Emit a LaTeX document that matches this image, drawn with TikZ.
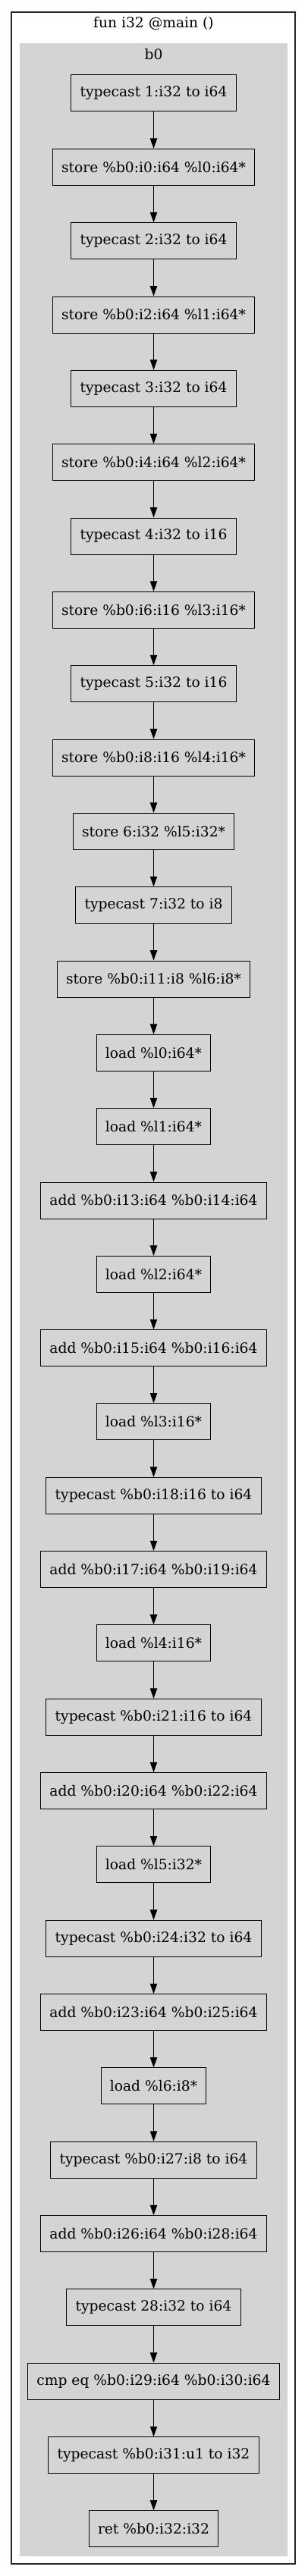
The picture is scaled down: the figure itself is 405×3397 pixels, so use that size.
\documentclass[tikz,border=0pt]{standalone}
\usepackage{fontspec}
\setmainfont{DejaVu Serif}
\usetikzlibrary{arrows.meta}
\begin{document}
\begin{tikzpicture}[x=0.75pt,y=-0.75pt,font=\fontsize{14pt}{16pt}\selectfont,
  instr/.style={fill=black!17,shape=rectangle,draw,line width=0.75pt,minimum height=36pt,inner xsep=8.8pt},
  flow/.style={-{Triangle[length=10pt,width=7pt]},line width=0.75pt}]
\useasboundingbox (0,0) rectangle (405,3397);
\draw[line width=0.9pt,black!85] (15,16) rectangle (389,3381);
\fill[black!17] (26,57) rectangle (379,3371);
\node(F) at (202.5,31){fun i32 @main ()};
\node(B) at (202.5,72){b0};
\node[instr](I1) at (202.5,123){typecast 1:i32 to i64};
\node[instr](I2) at (202.5,220.3){store \%b0:i0:i64 \%l0:i64*};
\node[instr](I3) at (202.5,317.7){typecast 2:i32 to i64};
\node[instr](I4) at (202.5,415.0){store \%b0:i2:i64 \%l1:i64*};
\node[instr](I5) at (202.5,512.3){typecast 3:i32 to i64};
\node[instr](I6) at (202.5,609.7){store \%b0:i4:i64 \%l2:i64*};
\node[instr](I7) at (202.5,707.0){typecast 4:i32 to i16};
\node[instr](I8) at (202.5,804.3){store \%b0:i6:i16 \%l3:i16*};
\node[instr](I9) at (202.5,901.6){typecast 5:i32 to i16};
\node[instr](I10) at (202.5,999.0){store \%b0:i8:i16 \%l4:i16*};
\node[instr](I11) at (202.5,1096.3){store 6:i32 \%l5:i32*};
\node[instr](I12) at (202.5,1193.6){typecast 7:i32 to i8};
\node[instr](I13) at (202.5,1291.0){store \%b0:i11:i8 \%l6:i8*};
\node[instr](I14) at (202.5,1388.3){load \%l0:i64*};
\node[instr](I15) at (202.5,1485.6){load \%l1:i64*};
\node[instr](I16) at (202.5,1583.0){add \%b0:i13:i64 \%b0:i14:i64};
\node[instr](I17) at (202.5,1680.3){load \%l2:i64*};
\node[instr](I18) at (202.5,1777.6){add \%b0:i15:i64 \%b0:i16:i64};
\node[instr](I19) at (202.5,1874.9){load \%l3:i16*};
\node[instr](I20) at (202.5,1972.3){typecast \%b0:i18:i16 to i64};
\node[instr](I21) at (202.5,2069.6){add \%b0:i17:i64 \%b0:i19:i64};
\node[instr](I22) at (202.5,2166.9){load \%l4:i16*};
\node[instr](I23) at (202.5,2264.3){typecast \%b0:i21:i16 to i64};
\node[instr](I24) at (202.5,2361.6){add \%b0:i20:i64 \%b0:i22:i64};
\node[instr](I25) at (202.5,2458.9){load \%l5:i32*};
\node[instr](I26) at (202.5,2556.3){typecast \%b0:i24:i32 to i64};
\node[instr](I27) at (202.5,2653.6){add \%b0:i23:i64 \%b0:i25:i64};
\node[instr](I28) at (202.5,2750.9){load \%l6:i8*};
\node[instr](I29) at (202.5,2848.2){typecast \%b0:i27:i8 to i64};
\node[instr](I30) at (202.5,2945.6){add \%b0:i26:i64 \%b0:i28:i64};
\node[instr](I31) at (202.5,3042.9){typecast 28:i32 to i64};
\node[instr](I32) at (202.5,3140.2){cmp eq \%b0:i29:i64 \%b0:i30:i64};
\node[instr](I33) at (202.5,3237.6){typecast \%b0:i31:u1 to i32};
\node[instr](I34) at (202.5,3334.9){ret \%b0:i32:i32};
\draw[flow] (I1) -- (I2);
\draw[flow] (I2) -- (I3);
\draw[flow] (I3) -- (I4);
\draw[flow] (I4) -- (I5);
\draw[flow] (I5) -- (I6);
\draw[flow] (I6) -- (I7);
\draw[flow] (I7) -- (I8);
\draw[flow] (I8) -- (I9);
\draw[flow] (I9) -- (I10);
\draw[flow] (I10) -- (I11);
\draw[flow] (I11) -- (I12);
\draw[flow] (I12) -- (I13);
\draw[flow] (I13) -- (I14);
\draw[flow] (I14) -- (I15);
\draw[flow] (I15) -- (I16);
\draw[flow] (I16) -- (I17);
\draw[flow] (I17) -- (I18);
\draw[flow] (I18) -- (I19);
\draw[flow] (I19) -- (I20);
\draw[flow] (I20) -- (I21);
\draw[flow] (I21) -- (I22);
\draw[flow] (I22) -- (I23);
\draw[flow] (I23) -- (I24);
\draw[flow] (I24) -- (I25);
\draw[flow] (I25) -- (I26);
\draw[flow] (I26) -- (I27);
\draw[flow] (I27) -- (I28);
\draw[flow] (I28) -- (I29);
\draw[flow] (I29) -- (I30);
\draw[flow] (I30) -- (I31);
\draw[flow] (I31) -- (I32);
\draw[flow] (I32) -- (I33);
\draw[flow] (I33) -- (I34);
\end{tikzpicture}
\end{document}
